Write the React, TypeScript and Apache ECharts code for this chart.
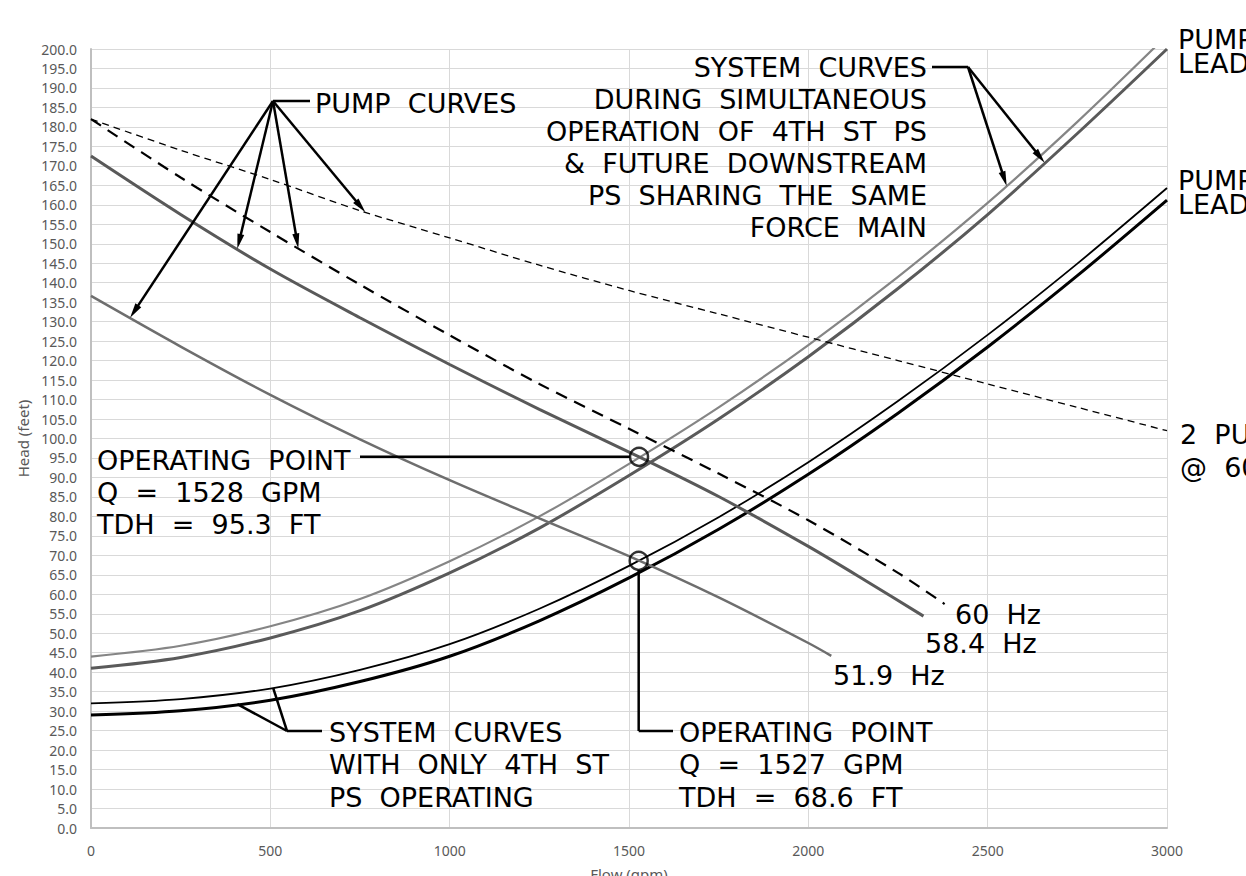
import React, { useEffect, useRef } from "react";
import * as echarts from "echarts";

// ---- Data ----
const flowTicks = [0, 500, 1000, 1500, 2000, 2500, 3000];

// Pump curves [flow gpm, head ft]
const pump60Hz: number[][] = [
  [0, 182], [250, 167], [500, 153], [750, 139.5], [1000, 126.5], [1250, 114],
  [1500, 102.5], [1750, 91], [2000, 79], [2250, 65.5], [2380, 57.5],
];
const pump584Hz: number[][] = [
  [0, 172.5], [250, 157.5], [500, 143.5], [750, 131], [1000, 119], [1250, 107.5],
  [1528, 95.3], [1750, 85.1], [2000, 72.3], [2160, 63.5], [2321, 54.4],
];
const pump519Hz: number[][] = [
  [0, 136.6], [250, 123.6], [500, 111.2], [750, 99.8], [1000, 89.3], [1250, 79.5],
  [1500, 69.8], [1750, 59.2], [2000, 47.5], [2064, 44.2],
];
const twoPumps60Hz: number[][] = [
  [0, 182], [250, 174], [500, 166.5], [750, 158.5], [1000, 151.5], [1250, 144.5],
  [1500, 138], [1750, 132], [2000, 126], [2250, 120], [2500, 114], [2750, 108], [3000, 102],
];

// System curves during simultaneous operation (gray pair)
const systemSimHigh: number[][] = [
  [0, 44], [250, 46.8], [500, 51.8], [750, 58.8], [1000, 68.5], [1250, 80], [1500, 93.5],
  [1750, 108], [2000, 124], [2250, 141.5], [2500, 160.5], [2750, 181.3], [3000, 203.5],
];
const systemSimLow: number[][] = [
  [0, 41], [250, 43.8], [500, 48.8], [750, 55.8], [1000, 65.5], [1250, 77], [1500, 90.5],
  [1750, 105], [2000, 121], [2250, 138.5], [2500, 157.5], [2750, 178.3], [3000, 200],
];

// System curves with only 4th St PS operating (black pair)
const systemOnlyHigh: number[][] = [
  [0, 32], [250, 33.1], [500, 35.8], [750, 40.6], [1000, 47.2], [1250, 56.3], [1500, 67.3],
  [1750, 79.8], [2000, 93.9], [2250, 109.6], [2500, 126.6], [2750, 144.9], [3000, 164.3],
];
const systemOnlyLow: number[][] = [
  [0, 29], [250, 30.1], [500, 32.8], [750, 37.6], [1000, 44.1], [1250, 53.2], [1500, 64.2],
  [1750, 76.7], [2000, 90.8], [2250, 106.5], [2500, 123.5], [2750, 141.8], [3000, 161.2],
];

const operatingPoints: number[][] = [[1528, 95.3], [1527, 68.6]];

// Points on curves that the annotation leaders point to
const pumpArrowTips: number[][] = [[109, 131.0], [408, 148.7], [578, 148.8], [765, 158.1]];
const simArrowTips: number[][] = [[2553, 164.8], [2659, 170.8]];
const onlyLeaderTips: number[][] = [[408, 31.8], [508, 35.9]];

const S = " \u00a0"; // wide word space

export default function App() {
  const ref = useRef<HTMLDivElement>(null);

  useEffect(() => {
    document.body.style.margin = "0";
    const chart = echarts.init(ref.current!, null, { renderer: "svg" });

    const axisLabelStyle = { color: "#595959", fontFamily: "Noto Sans", fontSize: 14 };

    const lineSeries = (name: string, data: number[][], color: string, width: number, type: any = "solid", z = 2) => ({
      name,
      type: "line",
      data,
      showSymbol: false,
      smooth: 0.3,
      clip: true,
      lineStyle: { color, width, type },
      z,
      silent: true,
    });

    chart.setOption({
      animation: false,
      backgroundColor: "#ffffff",
      grid: { left: 91, right: 79, top: 49, bottom: 48, containLabel: false, outerBoundsMode: "none" },
      xAxis: {
        type: "value",
        min: 0,
        max: 3000,
        interval: 500,
        name: "Flow (gpm)",
        nameLocation: "middle",
        nameGap: 38,
        nameTextStyle: { color: "#595959", fontFamily: "Noto Sans", fontSize: 15 },
        axisLine: { show: true, lineStyle: { color: "#bfbfbf", width: 2 } },
        axisTick: { show: false },
        axisLabel: { ...axisLabelStyle, margin: 15, formatter: (v: number) => (flowTicks.includes(v) ? String(v) : "") },
        splitLine: { show: true, lineStyle: { color: "#d9d9d9", width: 1 } },
      },
      yAxis: {
        type: "value",
        min: 0,
        max: 200,
        interval: 5,
        name: "Head (feet)",
        nameLocation: "middle",
        nameGap: 57,
        nameTextStyle: { color: "#595959", fontFamily: "Noto Sans", fontSize: 15 },
        axisLine: { show: true, lineStyle: { color: "#bfbfbf", width: 2 } },
        axisTick: { show: false },
        axisLabel: { ...axisLabelStyle, margin: 14, formatter: (v: number) => v.toFixed(1) },
        splitLine: { show: true, lineStyle: { color: "#d9d9d9", width: 1 } },
      },
      series: [
        lineSeries("2 Pumps @ 60 Hz", twoPumps60Hz, "#000000", 1.3, [7, 5], 3),
        lineSeries("60 Hz", pump60Hz, "#000000", 2.2, [12, 8], 3),
        lineSeries("58.4 Hz", pump584Hz, "#595959", 3, "solid", 3),
        lineSeries("51.9 Hz", pump519Hz, "#6e6e6e", 2.5, "solid", 3),
        lineSeries("System simultaneous high", systemSimHigh, "#858585", 2.2),
        lineSeries("System simultaneous low", systemSimLow, "#5a5a5a", 3),
        lineSeries("System only high", systemOnlyHigh, "#000000", 1.8),
        lineSeries("System only low", systemOnlyLow, "#000000", 3),
        {
          name: "Operating points",
          type: "scatter",
          data: operatingPoints,
          symbol: "circle",
          symbolSize: 18,
          itemStyle: { color: "rgba(0,0,0,0)", borderColor: "#000000", borderWidth: 2.5 },
          z: 5,
          silent: true,
        },
      ],
    });

    const px = (pt: number[]) => chart.convertToPixel({ gridIndex: 0 }, pt) as number[];
    const els: any[] = [];
    const LW = 2.5;
    const line = (x1: number, y1: number, x2: number, y2: number) =>
      els.push({ type: "line", shape: { x1, y1, x2, y2 }, style: { stroke: "#000", lineWidth: LW }, z: 10 });
    const arrow = (x1: number, y1: number, x2: number, y2: number) => {
      const dx = x2 - x1, dy = y2 - y1;
      const L = Math.hypot(dx, dy);
      const ux = dx / L, uy = dy / L;
      const hl = 15, hw = 3.5;
      const bx = x2 - ux * hl, by = y2 - uy * hl;
      line(x1, y1, bx + ux * 2, by + uy * 2);
      els.push({
        type: "polygon",
        shape: { points: [[x2, y2], [bx - uy * hw, by + ux * hw], [bx + uy * hw, by - ux * hw]] },
        style: { fill: "#000" },
        z: 10,
      });
    };
    const text = (t: string, x: number, y: number, align = "left", lineHeight = 32) =>
      els.push({
        type: "text",
        x,
        y,
        style: {
          text: t, fill: "#000", fontSize: 27, fontFamily: "DejaVu Sans", align, verticalAlign: "middle", lineHeight,
        },
        z: 11,
      });

    // Pump curves leader
    const hub = [273, 101];
    line(hub[0], hub[1], 310, hub[1]);
    pumpArrowTips.forEach((p) => { const q = px(p); arrow(hub[0], hub[1], q[0], q[1]); });
    text(`PUMP${S}CURVES`, 315, 103);

    // Simultaneous system curves leader
    const hub2 = [968, 67];
    line(932, 67, hub2[0], hub2[1]);
    simArrowTips.forEach((p) => { const q = px(p); arrow(hub2[0], hub2[1], q[0], q[1]); });
    const simLines = [
      `SYSTEM${S}CURVES`,
      `DURING${S}SIMULTANEOUS`,
      `OPERATION${S}OF${S}4TH${S}ST${S}PS`,
      `&${S}FUTURE${S}DOWNSTREAM`,
      `PS${S}SHARING${S}THE${S}SAME`,
      `FORCE${S}MAIN`,
    ];
    text(simLines.join("\n"), 927, 67 + 2.5 * 32, "right", 32);

    // Only 4th St PS system curves leader
    const hub3 = [287, 731];
    line(322, 731, hub3[0], hub3[1]);
    onlyLeaderTips.forEach((p) => { const q = px(p); line(hub3[0], hub3[1], q[0], q[1]); });
    text([`SYSTEM${S}CURVES`, `WITH${S}ONLY${S}4TH${S}ST`, `PS${S}OPERATING`].join("\n"), 329, 732 + 32.5, "left", 32.5);

    // Operating point 1
    const c1 = px(operatingPoints[0]);
    line(360, c1[1], c1[0] - 9, c1[1]);
    text([`OPERATING${S}POINT`, `Q${S}=${S}1528${S}GPM`, `TDH${S}=${S}95.3${S}FT`].join("\n"), 97, c1[1] + 4 + 32, "left", 32);

    // Operating point 2
    const c2 = px(operatingPoints[1]);
    line(c2[0], c2[1] + 9, c2[0], 731);
    line(c2[0], 731, 673, 731);
    text([`OPERATING${S}POINT`, `Q${S}=${S}1527${S}GPM`, `TDH${S}=${S}68.6${S}FT`].join("\n"), 679, 732 + 32.5, "left", 32.5);

    // Curve labels
    text(`60${S}Hz`, 955, 614);
    text(`58.4${S}Hz`, 925, 643);
    text(`51.9${S}Hz`, 833, 675);

    // Right-side labels (cut off at the picture's edge, as in the reference)
    text("PUMP\nLEAD", 1178, 51, "left", 24);
    text("PUMP\nLEAD", 1178, 192, "left", 24);
    text(`2${S}PUMPS\n@${S}60${S}Hz`, 1180, 451, "left", 33);

    chart.setOption({ graphic: { elements: els } });

    return () => chart.dispose();
  }, []);

  return (
    <div
      ref={ref}
      style={{ position: "absolute", left: 0, top: 0, width: 1246, height: 876, background: "#fff" }}
    />
  );
}
